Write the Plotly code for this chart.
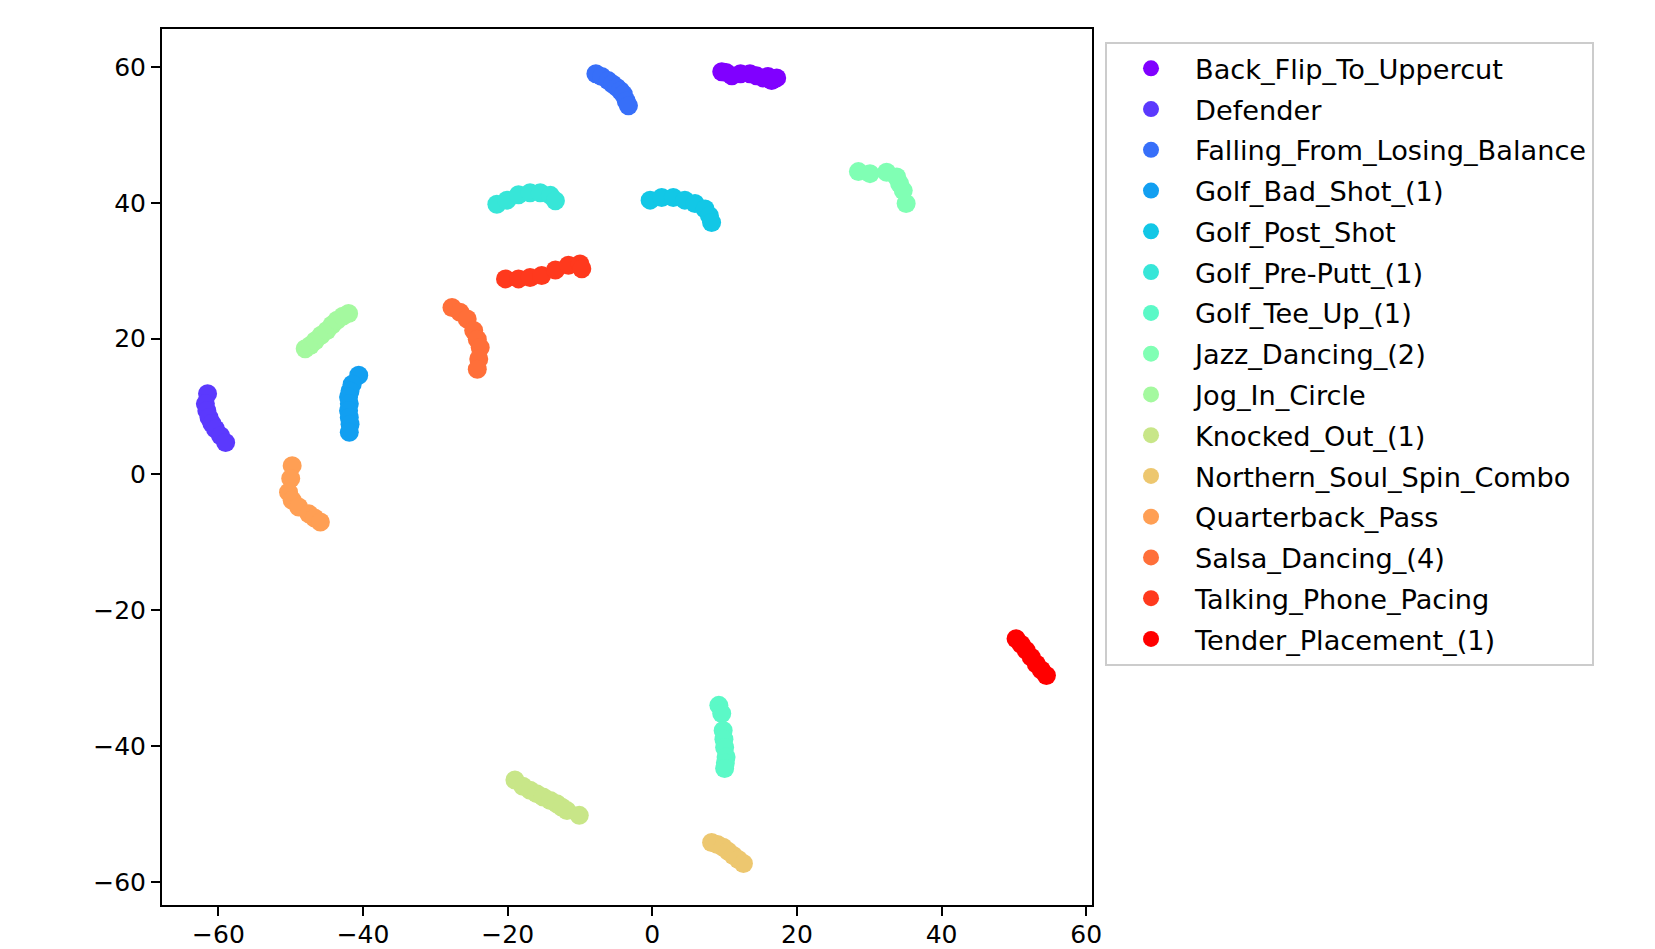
import plotly.graph_objects as go

names = ["Back_Flip_To_Uppercut", "Defender", "Falling_From_Losing_Balance",
         "Golf_Bad_Shot_(1)", "Golf_Post_Shot", "Golf_Pre-Putt_(1)", "Golf_Tee_Up_(1)",
         "Jazz_Dancing_(2)", "Jog_In_Circle", "Knocked_Out_(1)", "Northern_Soul_Spin_Combo",
         "Quarterback_Pass", "Salsa_Dancing_(4)", "Talking_Phone_Pacing", "Tender_Placement_(1)"]

colors = ["#8000ff", "#5b39fd", "#376ff9", "#129ff1", "#12c7e6", "#37e6d8", "#5bf9c7",
          "#80ffb4", "#a4f99f", "#c8e688", "#edc76f", "#ff9f54", "#ff6f39", "#ff391d", "#ff0000"]

back_flip_x = [9.6, 10.2, 11.0, 12.2, 13.5, 14.4, 15.3, 16.0, 16.5, 17.2]
back_flip_y = [59.3, 59.2, 58.7, 59.0, 59.0, 58.7, 58.4, 58.6, 58.0, 58.4]
defender_x = [-61.5, -61.8, -61.6, -61.3, -60.9, -60.4, -59.7, -59.0]
defender_y = [11.9, 10.4, 9.4, 8.4, 7.5, 6.7, 5.7, 4.7]
falling_x = [-7.8, -7.0, -6.1, -5.5, -4.9, -4.4, -4.0, -3.6, -3.3]
falling_y = [59.0, 58.6, 58.0, 57.5, 57.0, 56.5, 56.0, 55.0, 54.3]
golf_bad_x = [-40.6, -41.5, -41.8, -42.0, -41.9, -42.0, -41.9, -41.8, -41.9]
golf_bad_y = [14.6, 13.3, 12.3, 11.4, 10.4, 9.4, 8.4, 7.4, 6.2]
golf_post_x = [-0.3, 1.3, 2.9, 4.5, 5.9, 7.3, 7.9, 8.2]
golf_post_y = [40.4, 40.8, 40.8, 40.4, 39.9, 39.1, 38.1, 37.1]
golf_pre_x = [-21.5, -20.1, -18.5, -16.9, -15.5, -14.1, -13.4]
golf_pre_y = [39.8, 40.4, 41.2, 41.5, 41.5, 41.1, 40.3]
golf_tee_x = [9.2, 9.6, 9.8, 9.9, 10.0, 10.2, 10.1, 10.0]
golf_tee_y = [-34.0, -35.2, -37.7, -39.0, -40.2, -41.6, -42.5, -43.3]
jazz_x = [28.5, 30.1, 32.4, 33.8, 34.2, 34.7, 35.1]
jazz_y = [44.6, 44.3, 44.5, 43.8, 42.8, 41.8, 39.9]
jog_x = [-48.0, -47.3, -46.6, -45.8, -45.0, -44.3, -43.6, -42.8, -42.0]
jog_y = [18.5, 19.0, 19.7, 20.5, 21.2, 22.0, 22.7, 23.3, 23.7]
knocked_x = [-19.0, -17.9, -16.9, -16.0, -15.1, -14.1, -13.2, -12.5, -11.8, -10.1]
knocked_y = [-45.0, -45.9, -46.5, -47.0, -47.5, -48.0, -48.5, -49.0, -49.5, -50.2]
northern_x = [8.2, 9.0, 9.8, 10.5, 11.2, 11.9, 12.6]
northern_y = [-54.2, -54.5, -54.9, -55.5, -56.1, -56.7, -57.3]
quarterback_x = [-49.8, -50.0, -50.3, -49.8, -48.9, -47.5, -46.7, -45.9]
quarterback_y = [1.3, -0.6, -2.6, -3.8, -4.8, -5.8, -6.4, -7.0]
salsa_x = [-27.7, -26.6, -25.6, -24.7, -24.2, -23.8, -24.0, -24.2]
salsa_y = [24.6, 23.9, 22.9, 21.2, 19.9, 18.7, 17.0, 15.5]
talking_x = [-20.3, -18.5, -16.9, -15.3, -13.4, -11.6, -10.0, -9.75]
talking_y = [28.8, 28.8, 29.0, 29.3, 30.1, 30.8, 31.0, 30.3]
tender_x = [50.3, 51.0, 51.7, 52.4, 53.1, 53.8, 54.5]
tender_y = [-24.2, -25.0, -25.9, -26.9, -27.9, -28.8, -29.6]

xs = [back_flip_x, defender_x, falling_x, golf_bad_x, golf_post_x, golf_pre_x, golf_tee_x,
      jazz_x, jog_x, knocked_x, northern_x, quarterback_x, salsa_x, talking_x, tender_x]
ys = [back_flip_y, defender_y, falling_y, golf_bad_y, golf_post_y, golf_pre_y, golf_tee_y,
      jazz_y, jog_y, knocked_y, northern_y, quarterback_y, salsa_y, talking_y, tender_y]

tick_vals = [-60, -40, -20, 0, 20, 40, 60]

fig = go.Figure()
for name, c, x, y in zip(names, colors, xs, ys):
    fig.add_trace(go.Scatter(x=x, y=y, mode="markers", name=name, legendgroup=name,
                             marker=dict(color=c, size=19, line=dict(width=0))))

axis_common = dict(showgrid=False, zeroline=False, showline=True, linecolor="black",
                   linewidth=2, mirror=True, ticks="outside", ticklen=9, tickwidth=2,
                   tickcolor="black", automargin=False,
                   tickfont=dict(family="DejaVu Sans", size=25, color="black"),
                   tickvals=tick_vals)

fig.update_layout(
    width=1647, height=941,
    margin=dict(l=153.5, r=562.5, t=20.5, b=44.4, autoexpand=False),
    plot_bgcolor="white", paper_bgcolor="white",
    font=dict(family="DejaVu Sans", size=25, color="black"),
    xaxis=dict(range=[-67.8, 60.8], ticklabelstandoff=-3, **axis_common),
    yaxis=dict(range=[-63.4, 65.6], **axis_common),
    legend=dict(x=1.014, y=0.985, xanchor="left", yanchor="top",
                bordercolor="#cccccc", borderwidth=2, bgcolor="white",
                font=dict(family="DejaVu Sans", size=27.2, color="black"),
                tracegroupgap=2.4, itemsizing="trace", itemwidth=78),
    showlegend=True,
)

fig.write_html("out.html")
